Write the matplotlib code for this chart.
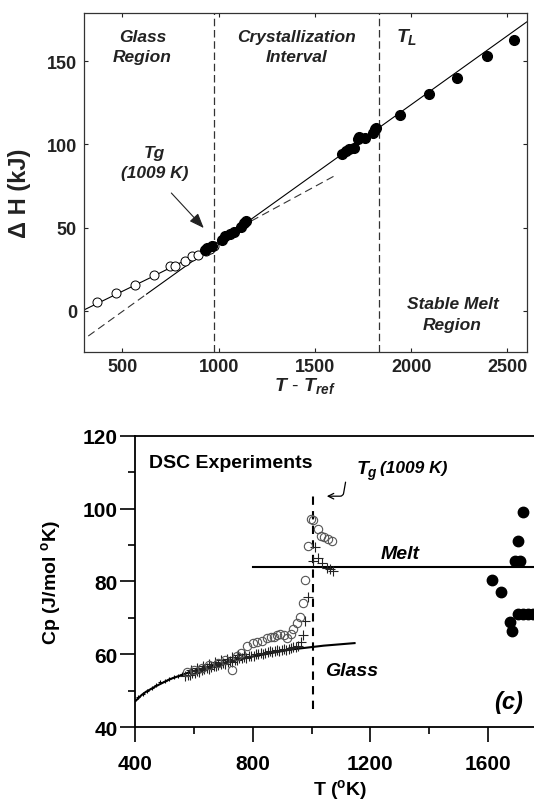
import numpy as np
import matplotlib
matplotlib.use("Agg")
import matplotlib.pyplot as plt

plt.rcParams["font.family"] = ["Liberation Sans", "DejaVu Sans"]
plt.rcParams["mathtext.fontset"] = "custom"
plt.rcParams["mathtext.it"] = "Liberation Sans:bold:italic"
plt.rcParams["mathtext.rm"] = "Liberation Sans:bold"
plt.rcParams["mathtext.bf"] = "Liberation Sans:bold"

# ---------------- top panel: enthalpy vs T - Tref ----------------
glass_T = [370, 467, 566, 666, 749, 774, 823, 862, 892, 934, 955, 976]
glass_H = [5.4, 10.6, 15.6, 21.2, 26.8, 27.0, 30.1, 32.9, 33.5, 35.7, 37.1, 38.7]

cryst_T = [929, 941, 964, 1017, 1035, 1061, 1079, 1114, 1131, 1142,
           1642, 1660, 1678, 1704, 1722, 1730, 1762, 1801, 1810, 1818]
cryst_H = [36.7, 38.0, 39.1, 42.7, 44.7, 46.1, 47.1, 50.1, 52.7, 54.1,
           94.1, 96.1, 97.1, 98.1, 103.1, 104.7, 104.1, 107.1, 109.1, 110.1]

melt_T = [1944, 2095, 2236, 2394, 2532]
melt_H = [117.5, 130.2, 140.2, 153.2, 162.6]

glass_fit_T = [300, 640, 976]
glass_fit_H = [0.5, 19.6, 38.9]
glass_ext_T = [1170, 1600]
glass_ext_H = [54.0, 81.0]
liquid_dash_T = [322, 625]
liquid_dash_H = [-15.2, 10.0]
liquid_fit_T = [625, 2600]
liquid_fit_H = [10.0, 173.6]

tg_line = 976
tl_line = 1831

# ---------------- bottom panel: DSC Cp ----------------
cp_curve_T = [400, 410, 420, 435, 470, 517, 587, 680, 797, 925, 1041, 1146]
cp_curve_C = [47.2, 48.0, 48.8, 49.7, 51.3, 53.2, 55.2, 57.3, 59.4, 61.3, 62.4, 63.1]

small_T = [410, 425, 440, 455, 470, 485, 500, 515, 530, 545, 560]
small_C = [48.2, 49.2, 50.1, 50.9, 51.6, 52.3, 52.8, 53.3, 53.8, 54.2, 54.6]

cross_T = [570, 578, 586, 594, 602, 610, 618, 626, 634, 642, 650, 658, 666, 674,
           682, 690, 698, 706, 714, 722, 730, 738, 746, 754, 762, 770, 778, 786,
           794, 802, 810, 818, 826, 834, 842, 850, 858, 866, 874, 882, 890, 898,
           906, 914, 922, 930, 938, 946, 954,
           590, 610, 630, 650, 670, 690, 710, 730, 750, 770,
           962, 969, 978, 989, 1006, 1012, 1023, 1034, 1051, 1063, 1074]
cross_C = [54.0, 54.4, 54.3, 54.9, 55.0, 55.4, 55.2, 55.8, 55.9, 56.3, 56.1, 56.6,
           56.8, 56.7, 57.2, 57.3, 57.6, 57.5, 58.0, 58.1, 58.0, 58.5, 58.6, 58.9,
           59.0, 59.2, 59.1, 59.5, 59.7, 59.6, 60.0, 60.1, 60.3, 60.2, 60.5, 60.6,
           60.8, 60.7, 61.0, 61.1, 61.0, 61.3, 61.4, 61.3, 61.6, 61.7, 61.9, 62.1, 62.4,
           55.6, 56.2, 56.8, 57.4, 57.9, 58.4, 58.8, 59.3, 59.8, 60.2,
           63.3, 65.4, 69.3, 75.8, 85.6, 89.5, 86.5, 85.1, 83.7, 83.3, 83.0]

circ_T = [575, 600, 625, 650, 680, 705, 727, 745, 760, 780, 800, 815, 830, 847,
          860, 870, 882, 892, 905, 915, 929, 938, 949, 960, 969, 978, 989,
          997, 1006, 1020, 1031, 1042, 1054, 1068]
circ_C = [55.2, 55.8, 56.4, 57.0, 57.6, 58.4, 55.7, 59.6, 60.4, 62.3, 63.0, 63.5,
          63.8, 64.6, 64.9, 64.7, 65.2, 65.6, 65.3, 64.6, 65.6, 67.0, 68.7, 70.2,
          74.0, 80.5, 89.8, 97.2, 96.9, 94.4, 92.6, 92.1, 91.6, 91.2]

liq_T = [1615, 1644, 1676, 1681, 1701, 1721, 1738, 1755, 1692, 1709, 1701, 1720]
liq_C = [80.5, 77.0, 69.0, 66.5, 71.0, 71.2, 71.2, 71.2, 85.5, 85.5, 91.0, 99.0]

melt_cp = 84.0
melt_start = 800
tg_cp = 1006

fig = plt.figure(figsize=(5.34, 8.03), dpi=100)

# ---- top axes ----
ax1 = fig.add_axes([0.1573, 0.561, 0.829, 0.4216])
tc = "#222222"
ax1.plot(glass_fit_T, glass_fit_H, color="black", lw=0.8)
ax1.plot(liquid_fit_T, liquid_fit_H, color="black", lw=0.8)
ax1.plot(liquid_dash_T, liquid_dash_H, color="#333333", lw=0.8, ls=(0, (7, 4)))
ax1.plot(glass_ext_T, glass_ext_H, color="#333333", lw=0.8, ls=(0, (7, 4)))
ax1.axvline(tg_line, color="#333333", lw=0.9, ls=(0, (6, 3)))
ax1.axvline(tl_line, color="#333333", lw=0.9, ls=(0, (6, 3)))
ax1.plot(glass_T, glass_H, "o", ms=6.5, mfc="white", mec="black", mew=0.7)
ax1.plot(cryst_T, cryst_H, "o", ms=7, color="black")
ax1.plot(melt_T, melt_H, "o", ms=7, color="black")

ax1.set_xlim(300, 2600)
ax1.set_ylim(-24.5, 179)
ax1.set_xticks([500, 1000, 1500, 2000, 2500])
ax1.set_yticks([0, 50, 100, 150])
ax1.tick_params(direction="in", length=3, width=0.8, top=True, right=True,
                labelsize=13, pad=5, colors="#222222")
for lab in ax1.get_xticklabels() + ax1.get_yticklabels():
    lab.set_fontweight("bold")
for sp in ax1.spines.values():
    sp.set_linewidth(0.9)
    sp.set_color("#333333")

kw = dict(fontsize=12.5, fontweight="bold", fontstyle="italic", color=tc,
          ha="center", va="center", linespacing=1.45)
ax1.text(603, 159, "Glass\nRegion", **kw)
ax1.text(1405, 159, "Crystallization\nInterval", **kw)
ax1.text(1975, 165, r"$T_L$", fontsize=14, color=tc, ha="center", va="center")
ax1.text(665, 89, "Tg\n(1009 K)", **kw)
ax1.text(2215, -2, "Stable Melt\nRegion", **kw)
ax1.annotate("", xy=(932, 48.5), xytext=(744, 72),
             arrowprops=dict(arrowstyle="-|>,head_length=0.9,head_width=0.35",
                             color="#222222", lw=0.8))
ax1.set_xlabel(r"$T$ - $T_{ref}$", fontsize=14, color=tc, labelpad=0)
fig.text(0.036, 1 - 193 / 803, "Δ H (kJ)", rotation=90, fontsize=17,
         fontweight="bold", color=tc, ha="center", va="center")

# ---- bottom axes ----
ax2 = fig.add_axes([0.2537, 0.093, 1 - 0.2537, 0.3632])
ax2.plot(cp_curve_T, cp_curve_C, color="black", lw=1.5)
ax2.plot(small_T, small_C, "+", ms=3, color="black", mew=0.8)
ax2.plot([melt_start, 1800], [melt_cp, melt_cp], color="black", lw=1.5)
ax2.plot([tg_cp, tg_cp], [44.9, 104.8], color="black", lw=1.5, ls=(0, (4, 3)))
ax2.plot(cross_T, cross_C, "+", ms=6.5, color="#222222", mew=0.8)
ax2.plot(circ_T, circ_C, "o", ms=6, mfc="none", mec="#555555", mew=0.8)
ax2.plot(liq_T, liq_C, "o", ms=7.5, color="black")

ax2.set_xlim(400, 1757)
ax2.set_ylim(40, 120)
ax2.set_xticks([400, 800, 1200, 1600])
ax2.set_xticks([600, 1000, 1400], minor=True)
ax2.set_yticks([40, 60, 80, 100, 120])
ax2.set_yticks([50, 70, 90, 110], minor=True)
ax2.tick_params(which="major", direction="out", length=11, width=1.2,
                labelsize=15, pad=8)
ax2.tick_params(axis="y", which="major", pad=2)
ax2.tick_params(which="minor", direction="out", length=5, width=1.2)
for lab in ax2.get_xticklabels() + ax2.get_yticklabels():
    lab.set_fontweight("bold")
ax2.spines["right"].set_visible(False)
for s in ["left", "bottom", "top"]:
    ax2.spines[s].set_linewidth(1.3)

ax2.text(447, 112.6, "DSC Experiments", fontsize=14, fontweight="bold",
         ha="left", va="center")
ax2.text(1150, 110.5, r"$T_g$", fontsize=14, ha="left", va="center")
ax2.text(1232, 111.4, "(1009 K)", fontsize=12.5, fontstyle="italic",
         fontweight="bold", ha="left", va="center")
ax2.annotate("", xy=(1042, 103.4), xytext=(1117, 108),
             arrowprops=dict(arrowstyle="->", color="black", lw=0.9,
                             connectionstyle="angle,angleA=-100,angleB=0,rad=3"))
ax2.text(1234, 87.8, "Melt", fontsize=14, fontweight="bold",
         fontstyle="italic", ha="left", va="center")
ax2.text(1047, 55.5, "Glass", fontsize=14, fontweight="bold",
         fontstyle="italic", ha="left", va="center")
ax2.text(1622, 47.2, "(c)", fontsize=17, fontweight="bold",
         fontstyle="italic", ha="left", va="center")
ax2.set_ylabel("Cp (J/mol $^{\\rm o}$K)", fontsize=14, fontweight="bold",
               labelpad=14)
fig.text(340 / 534, 1 - 790 / 803, "T ($^{\\rm o}$K)", fontsize=14,
         fontweight="bold", ha="center", va="center")

fig.savefig("out.png", dpi=100)
